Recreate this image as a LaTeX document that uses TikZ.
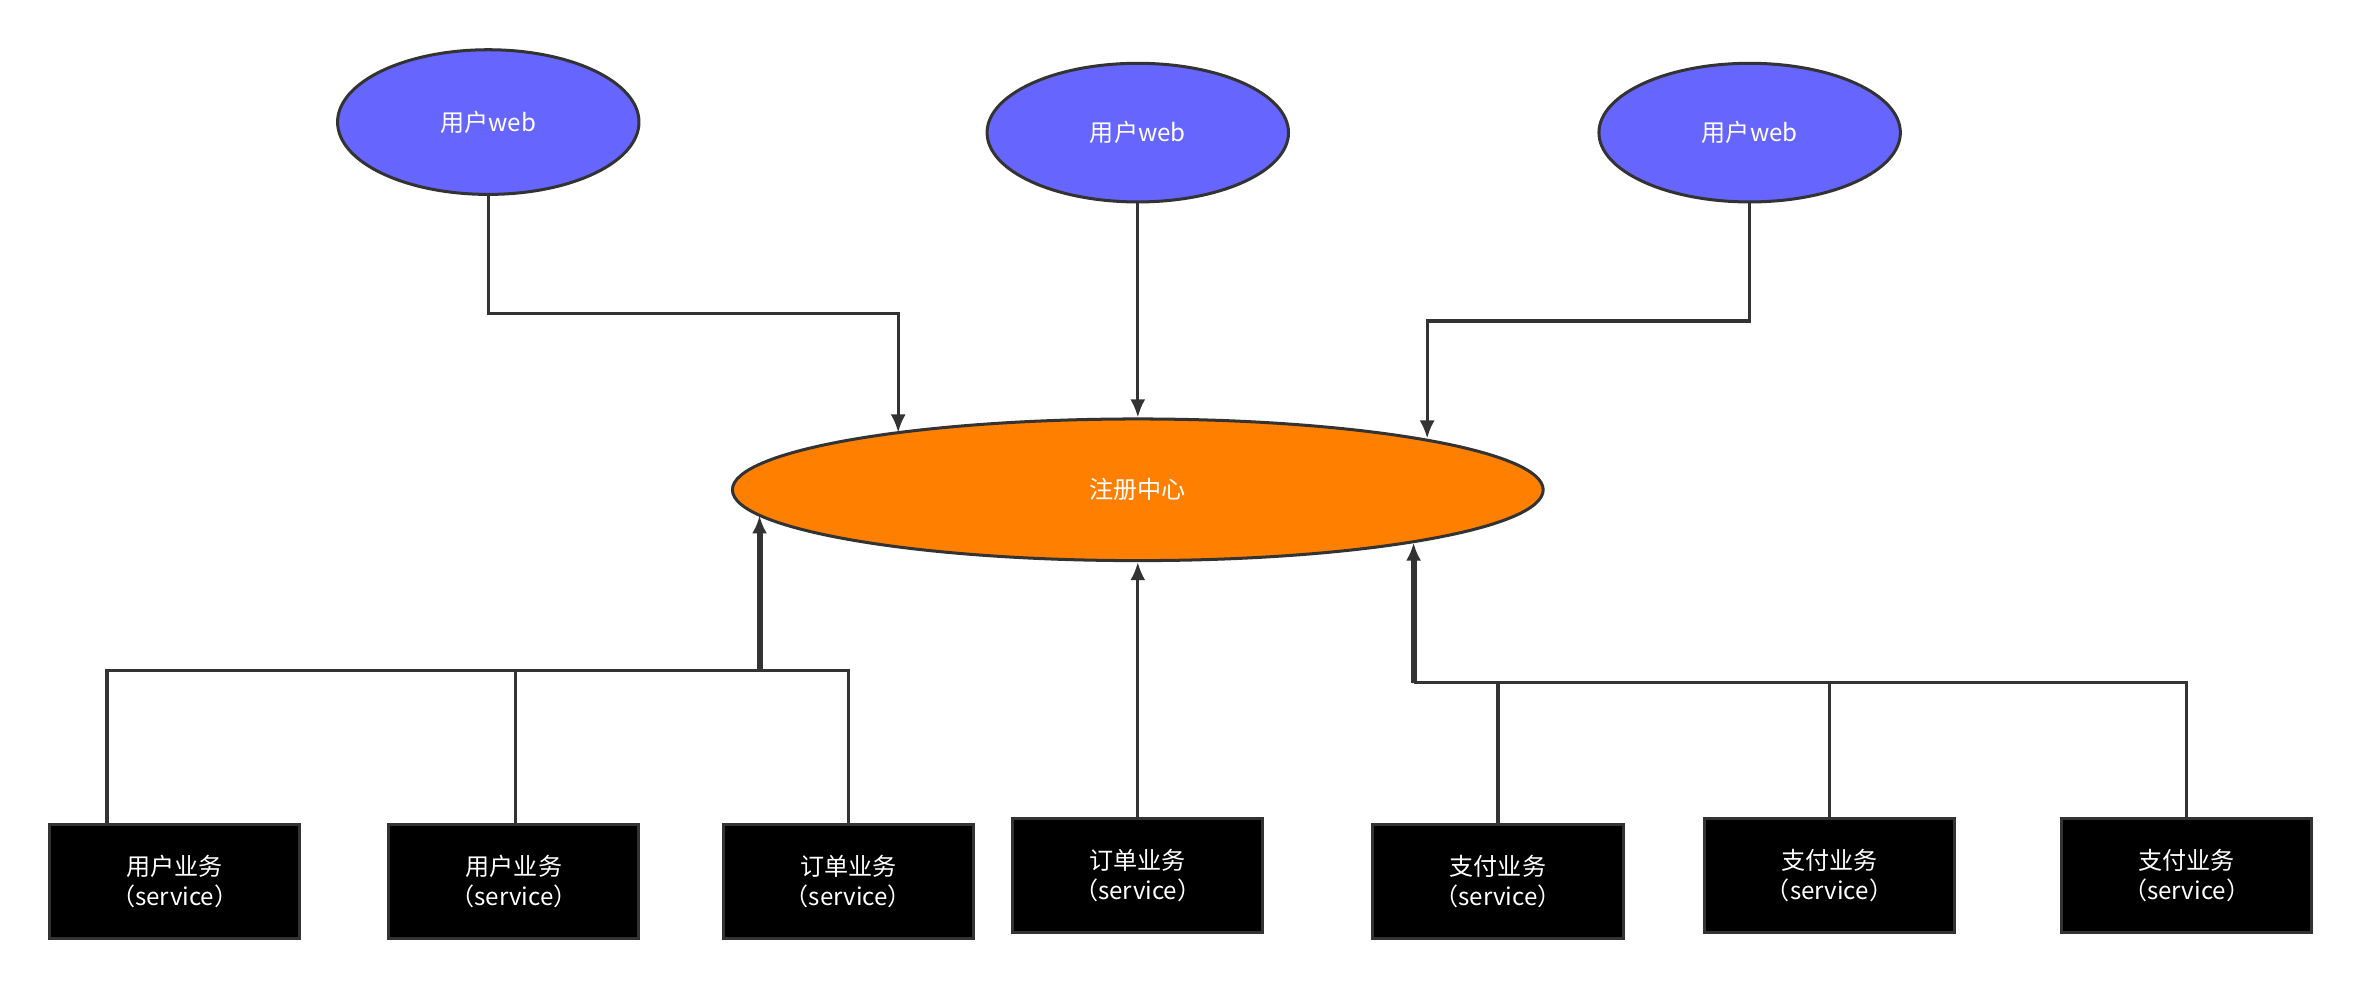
\documentclass[tikz,border=0pt]{standalone}
\usepackage{fontspec}
\setmainfont{Noto Sans CJK SC}
\usetikzlibrary{arrows.meta,shapes.geometric}
\definecolor{web}{HTML}{6666FF}
\definecolor{reg}{HTML}{FF8000}
\definecolor{ln}{HTML}{333333}
\begin{document}
\begin{tikzpicture}[x=1pt,y=-1pt,
 wb/.style={ellipse,draw=ln,line width=2pt,fill=web,text=white,font=\fontsize{16}{18}\selectfont},
 sv/.style={draw=ln,line width=2pt,fill=black,text=white,minimum width=166pt,minimum height=76pt,align=center,font=\fontsize{16}{20}\selectfont},
 cn/.style={ln,line width=2pt},
 ar/.style={cn,-{Latex[length=12pt,width=10pt]}},
 tk/.style={ar,line width=4pt}]
\useasboundingbox (0,0) rectangle (1568,656);
\node[wb,minimum width=200pt,minimum height=96pt] (w1) at (324,81) {用户web};
\node[wb,minimum width=200pt,minimum height=92pt] (w2) at (755,88) {用户web};
\node[wb,minimum width=200pt,minimum height=92pt] (w3) at (1161,88) {用户web};
\node[ellipse,draw=ln,line width=2pt,fill=reg,text=white,minimum width=538pt,minimum height=94pt,font=\fontsize{16}{18}\selectfont] (r) at (755,325) {注册中心};
\node[sv] (s1) at (116,585) {用户业务\\（service）};
\node[sv] (s2) at (341,585) {用户业务\\（service）};
\node[sv] (s3) at (563,585) {订单业务\\（service）};
\node[sv] (s4) at (755,581) {订单业务\\（service）};
\node[sv] (s5) at (994,585) {支付业务\\（service）};
\node[sv] (s6) at (1214,581) {支付业务\\（service）};
\node[sv] (s7) at (1451,581) {支付业务\\（service）};
\coordinate (L) at (504,445);
\coordinate (R) at (938,453);
\draw[ar] (w1.south) -- (324,208) -| (596,287);
\draw[ar] (w2.south) -- (r.north);
\draw[ar] (w3.south) -- (1161,213) -| (947,291);
\draw[cn] (s1.north -| 71,0) |- (L);
\draw[cn] (s2.north -| 342,0) |- (L);
\draw[cn] (s3.north) |- (L);
\draw[tk] (L) -- (504,342);
\draw[ar] (s4.north) -- (r.south);
\draw[cn] (s5.north) |- (R);
\draw[cn] (s6.north) |- (R);
\draw[cn] (s7.north) |- (R);
\draw[tk] (R) -- (938,360);
\end{tikzpicture}
\end{document}
